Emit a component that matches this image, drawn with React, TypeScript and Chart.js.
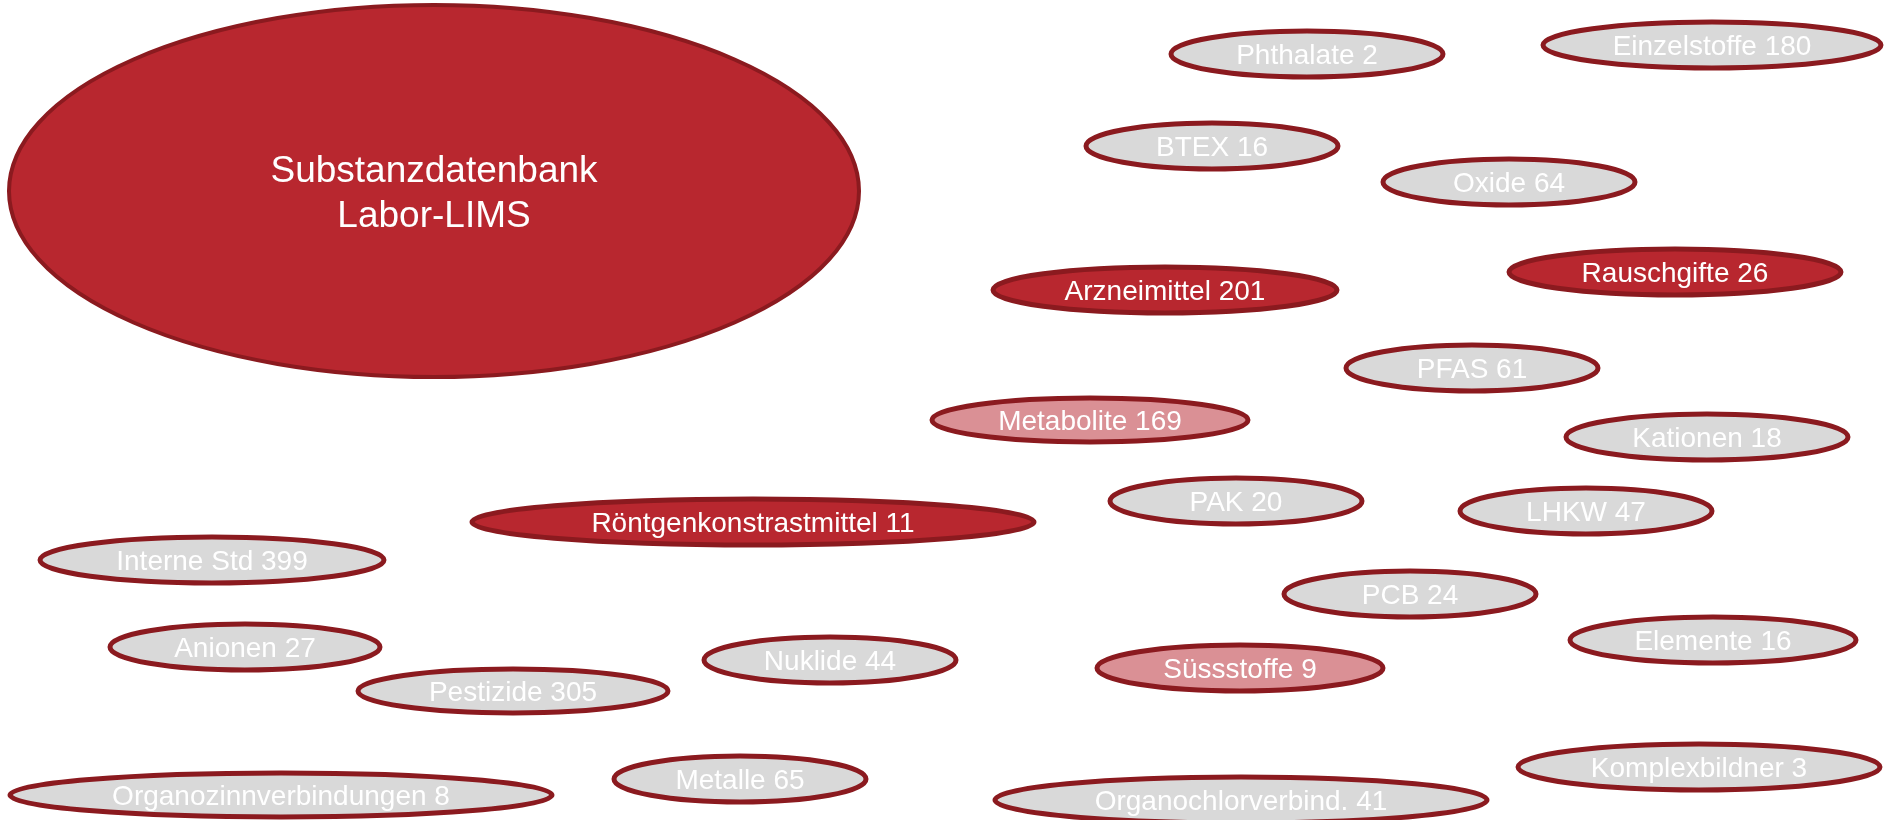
import React, { useEffect, useRef } from "react";
import { Chart, registerables } from "chart.js";

Chart.register(...registerables);

// Nodes of the substance database map (values in the chart's own x/y units)
const hubLabel = ["Substanzdatenbank", "Labor-LIMS"];
const hubX = [434];
const hubY = [191];
const hubW = [425];
const hubH = [186];

const labels = [
  "Phthalate 2",
  "Einzelstoffe 180",
  "BTEX 16",
  "Oxide 64",
  "Rauschgifte 26",
  "Arzneimittel 201",
  "PFAS 61",
  "Metabolite 169",
  "Kationen 18",
  "PAK 20",
  "LHKW 47",
  "Röntgenkonstrastmittel 11",
  "Interne Std 399",
  "PCB 24",
  "Elemente 16",
  "Anionen 27",
  "Nuklide 44",
  "Süssstoffe 9",
  "Pestizide 305",
  "Komplexbildner 3",
  "Metalle 65",
  "Organozinnverbindungen 8",
  "Organochlorverbind. 41",
];
const xs = [1307, 1712, 1212, 1509, 1675, 1165, 1472, 1090, 1707, 1236, 1586, 753, 212, 1410, 1713, 245, 830, 1240, 513, 1699, 740, 281, 1241];
const ys = [54, 45, 146, 182, 272, 290, 368, 420, 437, 501, 511, 522, 560, 594, 640, 647, 660, 668, 691, 767, 779, 795, 800];
const widths = [136, 169, 126, 126, 166, 172, 126, 158, 141, 126, 126, 281, 172, 126, 143, 135, 126, 143, 155, 181, 126, 271, 246];
const heights = [23, 23, 23, 23, 23, 23, 23, 22, 23, 23, 23, 23, 23, 23, 23, 23, 23, 23, 22, 23, 23, 22, 23];
// group: 0 = standard, 1 = highlighted, 2 = partly highlighted
const groups = [0, 0, 0, 0, 1, 1, 0, 2, 0, 0, 0, 1, 0, 0, 0, 0, 0, 2, 0, 0, 0, 0, 0];

const FILLS = ["#d9d9d9", "#b8272f", "#da9095"];
const BORDER = "#8b1a1f";
const FONT = '"Liberation Sans", Arial, Helvetica, sans-serif';

const ellipsePlugin = {
  id: "ellipseNodes",
  afterDatasetsDraw(chart: any) {
    const ctx = chart.ctx as CanvasRenderingContext2D;
    const sx = chart.scales.x;
    const sy = chart.scales.y;
    const drawNode = (
      x: number, y: number, w: number, h: number,
      fill: string, lw: number, text: string[], size: number, lineGap: number
    ) => {
      const cx = sx.getPixelForValue(x);
      const cy = sy.getPixelForValue(y);
      const rx = Math.abs(sx.getPixelForValue(x + w) - cx);
      const ry = Math.abs(sy.getPixelForValue(y + h) - cy);
      ctx.save();
      ctx.beginPath();
      ctx.ellipse(cx, cy, rx, ry, 0, 0, Math.PI * 2);
      ctx.fillStyle = fill;
      ctx.fill();
      ctx.lineWidth = lw;
      ctx.strokeStyle = BORDER;
      ctx.stroke();
      ctx.fillStyle = "#ffffff";
      ctx.font = `${size}px ${FONT}`;
      ctx.textAlign = "center";
      ctx.textBaseline = "alphabetic";
      const n = text.length;
      const capC = size * 0.358;
      text.forEach((t, i) => {
        const off = (i - (n - 1) / 2) * lineGap;
        ctx.fillText(t, cx, cy + off + capC);
      });
      ctx.restore();
    };
    drawNode(hubX[0], hubY[0], hubW[0], hubH[0], FILLS[1], 4, hubLabel, 37, 45);
    labels.forEach((l, i) => {
      drawNode(xs[i], ys[i], widths[i], heights[i], FILLS[groups[i]], 5, [l], 28, 0);
    });
  },
};

export default function App() {
  const ref = useRef<HTMLCanvasElement | null>(null);
  useEffect(() => {
    document.body.style.margin = "0";
    const canvas = ref.current;
    if (!canvas) return;
    const chart = new Chart(canvas, {
      type: "scatter",
      data: {
        datasets: [
          {
            label: "Knoten",
            data: labels.map((_, i) => ({ x: xs[i], y: ys[i] })),
            pointRadius: 0,
            pointHoverRadius: 0,
          },
        ],
      },
      options: {
        animation: false,
        responsive: false,
        devicePixelRatio: 1,
        layout: { padding: 0 },
        plugins: { legend: { display: false }, tooltip: { enabled: false } },
        scales: {
          x: { type: "linear", min: 0, max: 1884, display: false },
          y: { type: "linear", min: 0, max: 820, reverse: true, display: false },
        },
      },
      plugins: [ellipsePlugin],
    });
    return () => chart.destroy();
  }, []);
  return (
    <div style={{ width: 1884, height: 820, background: "#ffffff" }}>
      <canvas ref={ref} width={1884} height={820} style={{ width: 1884, height: 820, display: "block" }} />
    </div>
  );
}
